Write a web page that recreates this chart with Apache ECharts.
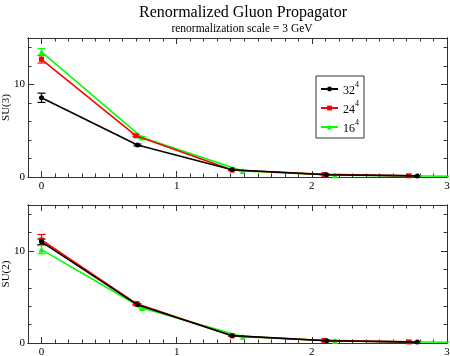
<!DOCTYPE html>
<html>
<head>
<meta charset="utf-8">
<script src="https://cdn.jsdelivr.net/npm/echarts@6/dist/echarts.min.js"></script>
<style>
  html, body { margin: 0; padding: 0; background: #fff; }
  #chart { width: 450px; height: 356px; }
</style>
</head>
<body>
<div id="chart"></div>
<script>
// momenta (GeV) per lattice
const x32 = [0, 0.71, 1.41, 2.11, 2.78]
const x24 = [0, 0.70, 1.41, 2.09, 2.72]
const x16 = [0, 0.745, 1.49, 2.17, 3.02]

// SU(3) propagator values and errors
const su3_32 = [8.55, 3.45, 0.78, 0.25, 0.12]
const su3_32err = [0.5, 0.1, 0.05, 0.03, 0.02]
const su3_24 = [12.7, 4.45, 0.75, 0.28, 0.13]
const su3_24err = [0.4, 0.12, 0.05, 0.03, 0.02]
const su3_16 = [13.5, 4.25, 0.65, 0.2, 0.08]
const su3_16err = [0.35, 0.1, 0.04, 0.02, 0.01]

// SU(2) propagator values and errors
const su2_32 = [11.0, 4.15, 0.8, 0.25, 0.1]
const su2_32err = [0.3, 0.1, 0.05, 0.03, 0.02]
const su2_24 = [11.2, 4.3, 0.78, 0.28, 0.12]
const su2_24err = [0.6, 0.15, 0.05, 0.03, 0.02]
const su2_16 = [10.15, 3.8, 0.68, 0.22, 0.08]
const su2_16err = [0.45, 0.1, 0.04, 0.02, 0.01]

// tick labels / positions
const xLabels = [0, 1, 2, 3]
const xMinor = []
for (let i = -1; i <= 30; i++) if (i % 10 !== 0) xMinor.push(i / 10)
const yLabels = [0, 10]
const yMinor = [2, 4, 6, 8, 12, 14]

const names = ['32', '24', '16']
const colors = ['#000000', '#ff0000', '#00ff00']
const symbols = ['circle', 'rect', 'triangle']
const serif = 'Liberation Serif'
const axisColor = '#333'

const chart = echarts.init(document.getElementById('chart'))

const grids = [
  { left: 28, top: 38, width: 419, height: 139, containLabel: false, outerBoundsMode: 'none' },
  { left: 28, top: 205, width: 419, height: 138, containLabel: false, outerBoundsMode: 'none' },
]

// 4 axes per direction per grid: main (labels + major ticks), minor, mirrored major, mirrored minor
const xAxes = []
const yAxes = []
grids.forEach((g, gi) => {
  const sides = [['bottom', xLabels, 6, true], ['bottom', xMinor, 3.5, false], ['top', xLabels, 6, false], ['top', xMinor, 3.5, false]]
  sides.forEach(([pos, vals, len, labels]) => {
    xAxes.push({
      type: 'value', gridIndex: gi, position: pos, min: -0.1, max: 3,
      axisLine: { show: true, onZero: false, lineStyle: { color: axisColor, width: 1 } },
      axisTick: { show: true, inside: true, length: len, customValues: vals, lineStyle: { color: axisColor } },
      axisLabel: labels
        ? { show: true, customValues: xLabels, margin: 4, fontFamily: serif, fontSize: 11, color: '#000' }
        : { show: false },
      splitLine: { show: false },
    })
  })
  const ySides = [['left', yLabels, 6, true], ['left', yMinor, 3.5, false], ['right', yLabels, 6, false], ['right', yMinor, 3.5, false]]
  ySides.forEach(([pos, vals, len, labels]) => {
    yAxes.push({
      type: 'value', gridIndex: gi, position: pos, min: 0, max: 15,
      name: labels ? (gi === 0 ? 'SU(3)' : 'SU(2)') : '',
      nameLocation: 'middle', nameGap: 16, nameRotate: 90, nameMoveOverlap: false,
      nameTextStyle: { fontFamily: serif, fontSize: 11, color: '#000' },
      axisLine: { show: true, onZero: false, lineStyle: { color: axisColor, width: 1 } },
      axisTick: { show: true, inside: true, length: len, customValues: vals, lineStyle: { color: axisColor } },
      axisLabel: labels
        ? { show: true, customValues: yLabels, margin: 3, fontFamily: serif, fontSize: 11, color: '#000' }
        : { show: false },
      splitLine: { show: false },
    })
  })
})

const panelData = [
  [[x32, su3_32, su3_32err], [x24, su3_24, su3_24err], [x16, su3_16, su3_16err]],
  [[x32, su2_32, su2_32err], [x24, su2_24, su2_24err], [x16, su2_16, su2_16err]],
]

const series = []
panelData.forEach((panel, gi) => {
  panel.forEach(([xs, ys, es], si) => {
    series.push({
      name: names[si], type: 'line', xAxisIndex: gi * 4, yAxisIndex: gi * 4,
      data: xs.map((x, i) => [x, ys[i]]),
      symbol: symbols[si], symbolSize: si === 2 ? 6 : 5, showSymbol: true,
      lineStyle: { color: colors[si], width: 1.6 },
      itemStyle: { color: colors[si] },
      animation: false, clip: true, z: 3 - si + 2,
    })
  })
  panel.forEach(([xs, ys, es], si) => {
    series.push({
      name: names[si] + 'err', type: 'custom', xAxisIndex: gi * 4, yAxisIndex: gi * 4,
      data: xs.map((x, i) => [x, ys[i] - es[i], ys[i] + es[i]]),
      encode: { x: 0, y: [1, 2] },
      renderItem: (params, api) => {
        const lo = api.coord([api.value(0), api.value(1)])
        const hi = api.coord([api.value(0), api.value(2)])
        const w = 4
        const style = { stroke: colors[si], lineWidth: 1.2 }
        return {
          type: 'group',
          children: [
            { type: 'line', shape: { x1: lo[0], y1: lo[1], x2: hi[0], y2: hi[1] }, style },
            { type: 'line', shape: { x1: lo[0] - w, y1: lo[1], x2: lo[0] + w, y2: lo[1] }, style },
            { type: 'line', shape: { x1: hi[0] - w, y1: hi[1], x2: hi[0] + w, y2: hi[1] }, style },
          ],
        }
      },
      animation: false, clip: true, z: 3,
    })
  })
})

chart.setOption({
  backgroundColor: '#fff',
  animation: false,
  title: [
    { text: 'Renormalized Gluon Propagator', left: 238, top: 0, textAlign: 'center',
      textStyle: { fontFamily: serif, fontSize: 16, fontWeight: 'normal', color: '#000' } },
    { text: 'renormalization scale = 3 GeV', left: 237, top: 18, textAlign: 'center',
      textStyle: { fontFamily: serif, fontSize: 11.5, fontWeight: 'normal', color: '#000' } },
  ],
  legend: {
    data: names, orient: 'vertical', left: 316, top: 76,
    padding: [5, 5, 3, 4], itemGap: 3, itemWidth: 17, itemHeight: 6,
    borderColor: '#333', borderWidth: 1, backgroundColor: '#fff',
    selectedMode: false,
    formatter: (n) => '{b|' + n + '}{s|4}',
    textStyle: {
      fontFamily: serif, color: '#000',
      rich: {
        b: { fontFamily: serif, fontSize: 12, color: '#000', padding: [4, 0, 0, 0] },
        s: { fontFamily: serif, fontSize: 8, color: '#000', verticalAlign: 'top', padding: [0, 0, 0, 0] },
      },
    },
  },
  grid: grids,
  xAxis: xAxes,
  yAxis: yAxes,
  series,
})
</script>
</body>
</html>
